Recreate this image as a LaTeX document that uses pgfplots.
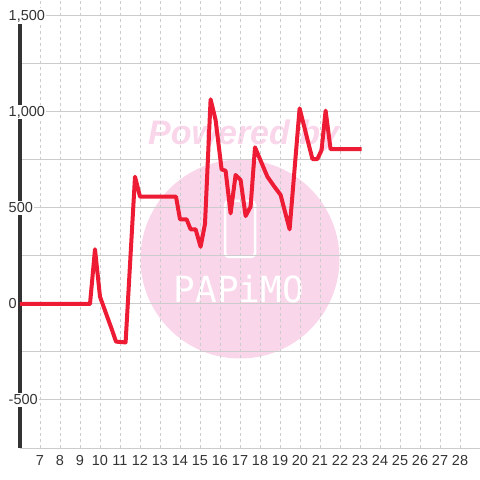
\documentclass[border=0pt]{standalone}
\usepackage{fontspec}
\setmainfont{Liberation Sans}
\newfontfamily\monofont{DejaVu Sans Mono}
\usepackage{pgfplots}
\pgfplotsset{compat=1.18}
\definecolor{linered}{RGB}{237,28,52}
\definecolor{wmpink}{RGB}{250,214,235}
\definecolor{gridgray}{RGB}{204,204,204}
\definecolor{axisdark}{RGB}{51,51,51}
\begin{document}
\begin{tikzpicture}
\useasboundingbox (-20bp,-32bp) rectangle (460bp,448bp);
% watermark
\fill[wmpink] (220bp,189bp) circle (99.5bp);
\node[anchor=base west, inner sep=0pt, text=wmpink, font=\fontsize{34bp}{36bp}\selectfont\bfseries\itshape] at (128bp,303bp) {Powered by};
\draw[white, line width=2.5bp, rounded corners=4bp] (205bp,191bp) rectangle (235bp,247bp);
\node[anchor=base, inner sep=0pt, text=white, font=\fontsize{36bp}{38bp}\selectfont\monofont] at (219bp,145bp) {PAPiMO};
\begin{axis}[
  at={(0,0)}, anchor=south west,
  scale only axis, width=460bp, height=448bp,
  xmin=6, xmax=29, ymin=-750, ymax=1583.3,
  xtick={7,...,28},
  ytick={-500,500,1000,1500},
  minor ytick={-750,-250,250,750,1250},
  extra y ticks={0},
  extra y tick style={grid style={axisdark, line width=3bp, solid}},
  tick style={draw=none},
  xmajorgrids, ymajorgrids, yminorgrids,
  x grid style={gridgray, dashed, dash pattern=on 3bp off 3bp, line width=0.8bp},
  y grid style={gridgray, line width=1bp},
  minor y grid style={gridgray, line width=1bp},
  axis x line*=bottom, axis y line*=left,
  x axis line style={draw=gridgray, line width=1bp, -},
  y axis line style={draw=axisdark, line width=3.5bp, -, shorten >=24bp},
  /pgf/number format/assume math mode=true,
  /pgf/number format/1000 sep={,},
  ticklabel style={font=\fontsize{14.5bp}{16bp}\selectfont, text=axisdark},
  yticklabel style={anchor=west, xshift=-13bp, fill=white, inner sep=1.5bp},
  xticklabel style={yshift=-4bp},
  clip=false,
]
\addplot[linered, line width=4bp, line join=round] coordinates {
(6,0) (9.5,0) (9.75,285) (10,38) (10.6,-135) (10.8,-196) (11.28,-200) (11.75,663) (12.0,559) (13.8,559) (14.0,441) (14.33,441) (14.53,389) (14.78,389) (15.03,298) (15.25,417) (15.53,1066) (15.78,958) (16.08,701) (16.28,694) (16.53,472) (16.78,672) (17.03,646) (17.28,458) (17.53,507) (17.75,816) (18.37,663) (18.7,614) (19.03,568) (19.48,389) (19.98,1019) (20.62,755) (20.87,755) (21.08,802) (21.28,1007) (21.53,806) (23.08,806)
};
\end{axis}
\end{tikzpicture}
\end{document}
